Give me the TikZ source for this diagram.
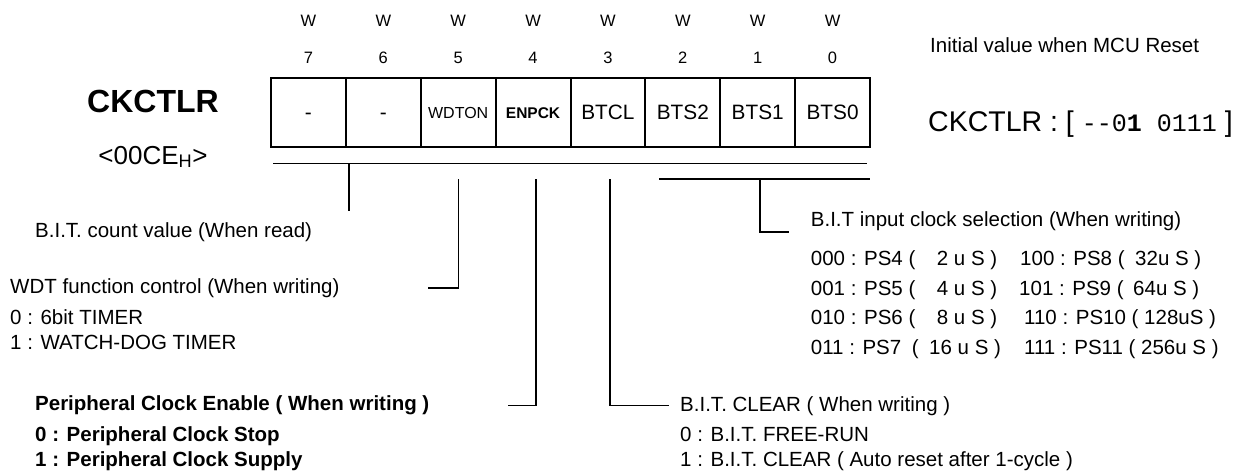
\documentclass[tikz,border=0pt]{standalone}
\usepackage{fontspec}
\setmainfont{Liberation Sans}
\setmonofont{Liberation Mono}
\newcommand{\fsz}[1]{\fontsize{#1}{#1}\selectfont}
\begin{document}
\begin{tikzpicture}[x=1pt,y=-1pt,
  txt/.style={anchor=base west, inner sep=0pt, font=\fsz{20.5}},
  btxt/.style={anchor=base west, inner sep=0pt, font=\fsz{20.5}\bfseries},
  hdr/.style={anchor=base, inner sep=0pt, font=\fsz{16.5}},
  cell/.style={draw, line width=2pt, minimum width=74.875pt, minimum height=69pt, inner sep=0pt, text height=13.6pt, text depth=0pt, font=\fsz{20.8}},
  lead/.style={line width=1.1pt}]
\useasboundingbox (0,0) rectangle (1247,472);
% register cells
\foreach \i [count=\k from 0] in {7,...,0} {
  \node[hdr] (w\i) at ({271+74.875*\k+37.4375},26.7) {W};
  \node[hdr] (n\i) at ({271+74.875*\k+37.4375},63.3) {\i};
}
\node[cell] (c7) at ({271+37.4375},112.5) {-};
\node[cell] (c6) at ({271+74.875+37.4375},112.5) {-};
\node[cell, font=\fsz{16}, text height=11.6pt] (c5) at ({271+74.875*2+37.4375},112.5) {WDTON};
\node[cell, font=\fsz{15.5}\bfseries, text height=11pt] (c4) at ({271+74.875*3+37.4375},112.5) {ENPCK};
\node[cell] (c3) at ({271+74.875*4+37.4375},112.5) {BTCL};
\node[cell] (c2) at ({271+74.875*5+37.4375},112.5) {BTS2};
\node[cell] (c1) at ({271+74.875*6+37.4375},112.5) {BTS1};
\node[cell] (c0) at ({271+74.875*7+37.4375},112.5) {BTS0};
% title
\node[anchor=base, inner sep=0pt, font=\fsz{32}\bfseries] (title) at (153,112.7) {CKCTLR};
\node[anchor=base, inner sep=0pt, font=\fsz{26}] (addr) at (153,164) {<00CE\textsubscript{H}>};
% initial value
\node[txt] (init) at (930,52.3) {Initial value when MCU Reset};
\node[anchor=base west, inner sep=0pt, font=\fsz{28.5}] (rv) at (928,131.7) {CKCTLR : [ {\ttfamily\fsz{25}--0\textbf{1} 0111} ]};
% bus lines
\coordinate (busAl) at (273,163.3);
\coordinate (busAr) at (867,163.3);
\coordinate (busBl) at (659,179);
\coordinate (busBr) at (870,179);
\draw[lead] (busAl) -- (busAr);
\draw[lead] (busBl) -- (busBr);
% leaders
\coordinate (t76) at (349,163.3);
\coordinate (e76) at (349,211);
\draw[lead] (t76) -- (e76);
\coordinate (t5) at (458.7,179);
\coordinate (e5) at (428,288);
\draw[lead] (t5) |- (e5);
\coordinate (t4) at (536,179);
\coordinate (k4) at (536,405.7);
\coordinate (e4) at (508,405.7);
\coordinate (f4) at (537,405.7);
\draw[lead] (t4) -- (k4);
\draw[lead] (e4) -- (f4);
\coordinate (t3) at (610,179);
\coordinate (e3) at (669,405.7);
\draw[lead] (t3) |- (e3);
\coordinate (t1) at (760,179);
\coordinate (e1) at (789,232);
\draw[lead] (t1) |- (e1);
% left texts
\node[txt] (bitcnt) at (35,237.3) {B.I.T. count value (When read)};
\node[txt] (wdt) at (10,293.3) {WDT function control (When writing)};
\node[txt] (wdt0) at (10,324) {0 : 6bit TIMER};
\node[txt] (wdt1) at (10,349) {1 : WATCH-DOG TIMER};
\node[btxt] (pce) at (35,410) {Peripheral Clock Enable ( When writing )};
\node[btxt] (pce0) at (35,441) {0 : Peripheral Clock Stop};
\node[btxt] (pce1) at (35,466) {1 : Peripheral Clock Supply};
% right texts
\node[txt] (btcl) at (680,411.5) {B.I.T. CLEAR ( When writing )};
\node[txt] (btcl0) at (680,441.7) {0 : B.I.T. FREE-RUN};
\node[txt] (btcl1) at (680,466.7) {1 : B.I.T. CLEAR ( Auto reset after 1-cycle )};
\node[txt] (bts) at (810.7,226.7) {B.I.T input clock selection (When writing)};
\node[txt] (r1a) at (810.7,265) {000 : PS4 (};
\node[txt] (r1b) at (936.7,265) {2 u S )};
\node[txt] (r2a) at (810.7,295) {001 : PS5 (};
\node[txt] (r2b) at (936.7,295) {4 u S )};
\node[txt] (r3a) at (810.7,324) {010 : PS6 (};
\node[txt] (r3b) at (936.7,324) {8 u S )};
\node[txt] (r4a) at (810.7,354) {011 : PS7};
\node[txt] (r4p) at (911.7,354) {(};
\node[txt] (r4b) at (929,354) {16 u S )};
\node[txt] (s1a) at (1020,265) {100 : PS8 (};
\node[txt] (s1b) at (1135,265) {32u S )};
\node[txt] (s2a) at (1019,295) {101 : PS9 (};
\node[txt] (s2b) at (1133,295) {64u S )};
\node[txt] (s3) at (1024,324) {110 : PS10 ( 128uS )};
\node[txt] (s4) at (1024,354) {111 : PS11 ( 256u S )};
\end{tikzpicture}
\end{document}
